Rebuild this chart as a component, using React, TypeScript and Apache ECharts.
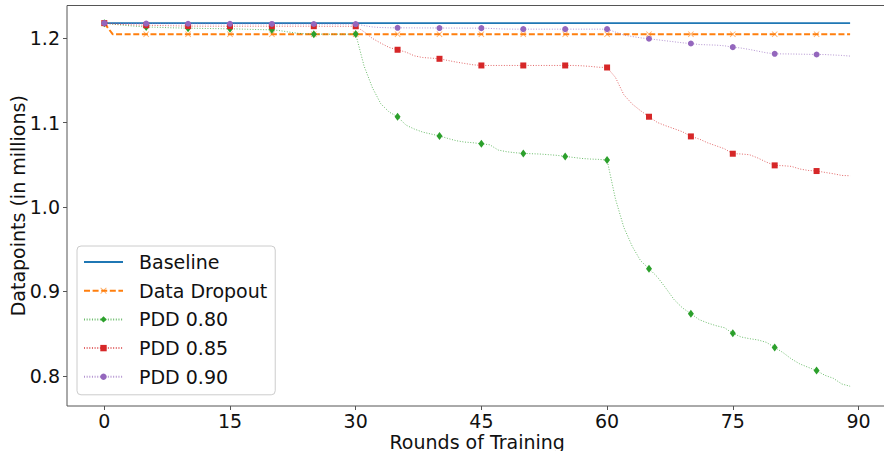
import React, { useEffect, useRef } from "react";
import * as echarts from "echarts";

// ---- data ----
const X_TICKS = [0, 15, 30, 45, 60, 75, 90];
const Y_TICKS = [0.8, 0.9, 1.0, 1.1, 1.2];

const baseline = [
  1.2177, 1.2177, 1.2177, 1.2177, 1.2177, 1.2177, 1.2177, 1.2177, 1.2177, 1.2177,
  1.2177, 1.2177, 1.2177, 1.2177, 1.2177, 1.2177, 1.2177, 1.2177, 1.2177, 1.2177,
  1.2177, 1.2177, 1.2177, 1.2177, 1.2177, 1.2177, 1.2177, 1.2177, 1.2177, 1.2177,
  1.2177, 1.2177, 1.2177, 1.2177, 1.2177, 1.2177, 1.2177, 1.2177, 1.2177, 1.2177,
  1.2177, 1.2177, 1.2177, 1.2177, 1.2177, 1.2177, 1.2177, 1.2177, 1.2177, 1.2177,
  1.2177, 1.2177, 1.2177, 1.2177, 1.2177, 1.2177, 1.2177, 1.2177, 1.2177, 1.2177,
  1.2177, 1.2177, 1.2177, 1.2177, 1.2177, 1.2177, 1.2177, 1.2177, 1.2177, 1.2177,
  1.2177, 1.2177, 1.2177, 1.2177, 1.2177, 1.2177, 1.2177, 1.2177, 1.2177, 1.2177,
  1.2177, 1.2177, 1.2177, 1.2177, 1.2177, 1.2177, 1.2177, 1.2177, 1.2177, 1.2177,
];

const dataDropout = [
  1.2177, 1.2047, 1.2047, 1.2047, 1.2047, 1.2047, 1.2047, 1.2047, 1.2047, 1.2047,
  1.2047, 1.2047, 1.2047, 1.2047, 1.2047, 1.2047, 1.2047, 1.2047, 1.2047, 1.2047,
  1.2047, 1.2047, 1.2047, 1.2047, 1.2047, 1.2047, 1.2047, 1.2047, 1.2047, 1.2047,
  1.2047, 1.2047, 1.2047, 1.2047, 1.2047, 1.2047, 1.2047, 1.2047, 1.2047, 1.2047,
  1.2047, 1.2047, 1.2047, 1.2047, 1.2047, 1.2047, 1.2047, 1.2047, 1.2047, 1.2047,
  1.2047, 1.2047, 1.2047, 1.2047, 1.2047, 1.2047, 1.2047, 1.2047, 1.2047, 1.2047,
  1.2047, 1.2047, 1.2047, 1.2047, 1.2047, 1.2047, 1.2047, 1.2047, 1.2047, 1.2047,
  1.2047, 1.2047, 1.2047, 1.2047, 1.2047, 1.2047, 1.2047, 1.2047, 1.2047, 1.2047,
  1.2047, 1.2047, 1.2047, 1.2047, 1.2047, 1.2047, 1.2047, 1.2047, 1.2047, 1.2047,
];

const pdd080 = [
  1.2177, 1.2165, 1.2155, 1.2146, 1.2139, 1.2132, 1.2129, 1.2126, 1.2122, 1.2120,
  1.2118, 1.2116, 1.2114, 1.2113, 1.2111, 1.2110, 1.2108, 1.2105, 1.2102, 1.2100,
  1.2098, 1.2088, 1.2072, 1.2058, 1.2050, 1.2047, 1.2047, 1.2046, 1.2047, 1.2046,
  1.2050, 1.1669, 1.1412, 1.1222, 1.1124, 1.1069, 1.0970, 1.0923, 1.0887, 1.0864,
  1.0842, 1.0812, 1.0785, 1.0769, 1.0761, 1.0749, 1.0737, 1.0675, 1.0655, 1.0643,
  1.0635, 1.0631, 1.0627, 1.0620, 1.0612, 1.0599, 1.0587, 1.0575, 1.0568, 1.0564,
  1.0556, 1.0095, 0.9759, 0.9534, 0.9364, 0.9270, 0.9172, 0.9041, 0.8903, 0.8805,
  0.8737, 0.8666, 0.8627, 0.8595, 0.8571, 0.8504, 0.8461, 0.8441, 0.8426, 0.8398,
  0.8338, 0.8276, 0.8201, 0.8142, 0.8102, 0.8063, 0.8007, 0.7972, 0.7905, 0.7878,
];

const pdd085 = [
  1.2177, 1.2168, 1.2162, 1.2158, 1.2155, 1.2152, 1.2150, 1.2148, 1.2146, 1.2144,
  1.2142, 1.2142, 1.2141, 1.2141, 1.2141, 1.2141, 1.2141, 1.2141, 1.2141, 1.2141,
  1.2141, 1.2141, 1.2141, 1.2141, 1.2141, 1.2141, 1.2140, 1.2140, 1.2140, 1.2140,
  1.2140, 1.2075, 1.1996, 1.1940, 1.1889, 1.1862, 1.1834, 1.1790, 1.1770, 1.1763,
  1.1755, 1.1735, 1.1716, 1.1700, 1.1684, 1.1676, 1.1676, 1.1676, 1.1676, 1.1676,
  1.1676, 1.1676, 1.1676, 1.1676, 1.1676, 1.1676, 1.1676, 1.1672, 1.1665, 1.1655,
  1.1652, 1.1534, 1.1329, 1.1219, 1.1140, 1.1069, 1.1001, 1.0962, 1.0927, 1.0891,
  1.0836, 1.0805, 1.0760, 1.0725, 1.0690, 1.0631, 1.0628, 1.0619, 1.0580, 1.0532,
  1.0493, 1.0489, 1.0481, 1.0450, 1.0433, 1.0426, 1.0410, 1.0394, 1.0374, 1.0370,
];

const pdd090 = [
  1.2177, 1.2175, 1.2174, 1.2173, 1.2172, 1.2172, 1.2171, 1.2171, 1.2170, 1.2170,
  1.2170, 1.2170, 1.2169, 1.2169, 1.2169, 1.2169, 1.2168, 1.2168, 1.2168, 1.2168,
  1.2168, 1.2167, 1.2167, 1.2167, 1.2167, 1.2167, 1.2166, 1.2166, 1.2166, 1.2166,
  1.2166, 1.2148, 1.2132, 1.2125, 1.2122, 1.2122, 1.2121, 1.2121, 1.2120, 1.2120,
  1.2119, 1.2119, 1.2119, 1.2118, 1.2118, 1.2118, 1.2115, 1.2110, 1.2107, 1.2106,
  1.2106, 1.2106, 1.2106, 1.2106, 1.2106, 1.2106, 1.2106, 1.2106, 1.2106, 1.2106,
  1.2106, 1.2071, 1.2036, 1.2019, 1.2003, 1.1992, 1.1980, 1.1968, 1.1956, 1.1944,
  1.1936, 1.1924, 1.1920, 1.1917, 1.1909, 1.1893, 1.1882, 1.1865, 1.1846, 1.1826,
  1.1814, 1.1813, 1.1812, 1.1810, 1.1808, 1.1806, 1.1805, 1.1800, 1.1795, 1.1787,
];

const FONT = "DejaVu Sans";
const X_SYMBOL =
  "path://M1,0 L5,4 L9,0 L10,1 L6,5 L10,9 L9,10 L5,6 L1,10 L0,9 L4,5 L0,1 Z";

function withMarkers(values: number[], every: number) {
  return values.map((v, i) =>
    i % every === 0 ? { value: [i, v] } : { value: [i, v], symbol: "none" }
  );
}

export default function App() {
  const ref = useRef<HTMLDivElement>(null);

  useEffect(() => {
    if (!ref.current) return;
    const chart = echarts.init(ref.current, undefined, { renderer: "svg" });
    const option: any = {
      animation: false,
      backgroundColor: "#ffffff",
      textStyle: { fontFamily: FONT },
      grid: {
        left: 67,
        right: -3.4,
        top: 5.5,
        bottom: 45,
        containLabel: false,
        outerBoundsMode: "none",
        show: true,
        borderColor: "#555",
        borderWidth: 1,
        backgroundColor: "transparent",
      },
      xAxis: {
        type: "value",
        min: -4.45,
        max: 93.45,
        name: "Rounds of Training",
        nameLocation: "middle",
        nameGap: 26,
        nameMoveOverlap: false,
        nameTextStyle: { fontFamily: FONT, fontSize: 19, color: "#111", lineHeight: 19 },
        axisLine: { show: false, onZero: false },
        splitLine: { show: false },
        axisTick: {
          show: true,
          length: 4,
          lineStyle: { color: "#555" },
          customValues: X_TICKS,
        },
        axisLabel: {
          fontFamily: FONT,
          fontSize: 19,
          lineHeight: 19,
          color: "#111",
          margin: 5,
          customValues: X_TICKS,
        },
      },
      yAxis: {
        type: "value",
        min: 0.7644,
        max: 1.2386,
        name: "Datapoints (in millions)",
        nameLocation: "middle",
        nameGap: 40,
        nameMoveOverlap: false,
        nameTextStyle: { fontFamily: FONT, fontSize: 19, color: "#111" },
        axisLine: { show: false, onZero: false },
        splitLine: { show: false },
        axisTick: {
          show: true,
          length: 4,
          lineStyle: { color: "#555" },
          customValues: Y_TICKS,
        },
        axisLabel: {
          fontFamily: FONT,
          fontSize: 19,
          color: "#111",
          margin: 7,
          customValues: Y_TICKS,
          formatter: (v: number) => v.toFixed(1),
        },
      },
      legend: {
        orient: "vertical",
        left: 77,
        top: 246,
        itemWidth: 39,
        itemHeight: 8,
        itemGap: 8.7,
        padding: [6, 8, 8, 6],
        backgroundColor: "rgba(255,255,255,0.8)",
        borderColor: "#cccccc",
        borderWidth: 1,
        borderRadius: 4,
        textStyle: {
          fontFamily: FONT,
          fontSize: 19,
          color: "#111",
          lineHeight: 20,
          padding: [0, 0, 0, 11],
        },
        data: [
          { name: "Baseline", itemStyle: { opacity: 0 } },
          "Data Dropout",
          "PDD 0.80",
          "PDD 0.85",
          "PDD 0.90",
        ],
      },
      series: [
        {
          name: "Baseline",
          type: "line",
          data: baseline.map((v, i) => [i, v]),
          symbol: "none",
          color: "#1f77b4",
          lineStyle: { color: "#1f77b4", width: 1.6 },
          silent: true,
        },
        {
          name: "Data Dropout",
          type: "line",
          data: withMarkers(dataDropout, 5),
          symbol: X_SYMBOL,
          symbolSize: 6,
          showSymbol: true,
          showAllSymbol: true,
          color: "#ff7f0e",
          itemStyle: { color: "#ff7f0e", opacity: 0.6 },
          lineStyle: { color: "#ff7f0e", width: 2, type: [6, 2.6] },
          silent: true,
        },
        {
          name: "PDD 0.80",
          type: "line",
          data: withMarkers(pdd080, 5),
          symbol: "diamond",
          symbolSize: [6, 8],
          showSymbol: true,
          showAllSymbol: true,
          color: "#2ca02c",
          itemStyle: { color: "#2ca02c" },
          lineStyle: { color: "#2ca02c", width: 1, type: [1, 1.65], opacity: 0.7 },
          silent: true,
        },
        {
          name: "PDD 0.85",
          type: "line",
          data: withMarkers(pdd085, 5),
          symbol: "rect",
          symbolSize: 6,
          showSymbol: true,
          showAllSymbol: true,
          color: "#d62728",
          itemStyle: { color: "#d62728" },
          lineStyle: { color: "#d62728", width: 1, type: [1, 1.65], opacity: 0.7 },
          silent: true,
        },
        {
          name: "PDD 0.90",
          type: "line",
          data: withMarkers(pdd090, 5),
          symbol: "circle",
          symbolSize: 6,
          showSymbol: true,
          showAllSymbol: true,
          color: "#9467bd",
          itemStyle: { color: "#9467bd" },
          lineStyle: { color: "#9467bd", width: 1, type: [1, 1.65], opacity: 0.7 },
          silent: true,
        },
      ],
    };
    chart.setOption(option);
    return () => chart.dispose();
  }, []);

  return (
    <div
      ref={ref}
      style={{ position: "fixed", left: 0, top: 0, width: 884, height: 451, background: "#fff" }}
    />
  );
}
